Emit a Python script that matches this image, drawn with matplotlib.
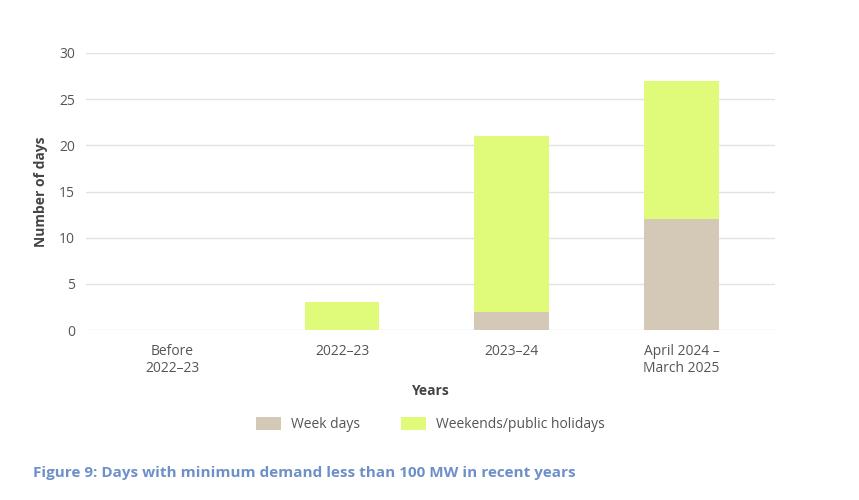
import matplotlib.pyplot as plt
import numpy as np

plt.rcParams['font.family'] = ['Open Sans', 'DejaVu Sans']

categories = ['Before\n2022–23', '2022–23', '2023–24', 'April 2024 –\nMarch 2025']
week_days = [0, 0, 2, 12]
weekends = [0, 3, 19, 15]

c_week = '#D4C9B7'
c_weekend = '#E0FB7A'

fig = plt.figure(figsize=(8.59, 5.0), dpi=100)
ax = fig.add_axes([0.100, 0.34, 0.802, 0.554])

x = np.arange(len(categories))
ax.bar(x, week_days, width=0.44, color=c_week, label='Week days', zorder=3)
ax.bar(x, weekends, width=0.44, bottom=week_days, color=c_weekend,
       label='Weekends/public holidays', zorder=3)

ax.set_xlim(-0.51, 3.55)
ax.set_ylim(0, 30)
ax.set_yticks(range(0, 31, 5))
ax.set_xticks(x)
ax.set_xticklabels(categories, color='#555555', fontsize=10, linespacing=1.15)
ax.tick_params(axis='y', colors='#555555', labelsize=10, length=0, pad=8)
ax.tick_params(axis='x', length=0, pad=10)
ax.grid(axis='y', color='#E2E2E2', linewidth=1, zorder=0)
for s in ax.spines.values():
    s.set_visible(False)

ax.set_ylabel('Number of days', fontsize=10, fontweight='bold', color='#444444', labelpad=8)
ax.set_xlabel('Years', fontsize=10, fontweight='bold', color='#444444', labelpad=6)

ax.legend(loc='upper center', bbox_to_anchor=(0.5, -0.27), ncol=2, frameon=False,
          fontsize=10, labelcolor='#555555', handlelength=1.8, handleheight=1.0,
          columnspacing=3.0, handletextpad=0.7)

fig.text(0.038, 0.055, 'Figure 9: Days with minimum demand less than 100 MW in recent years',
         color='#6E90C8', fontsize=11, fontweight='bold', va='center')

fig.savefig('out.png', dpi=100)
